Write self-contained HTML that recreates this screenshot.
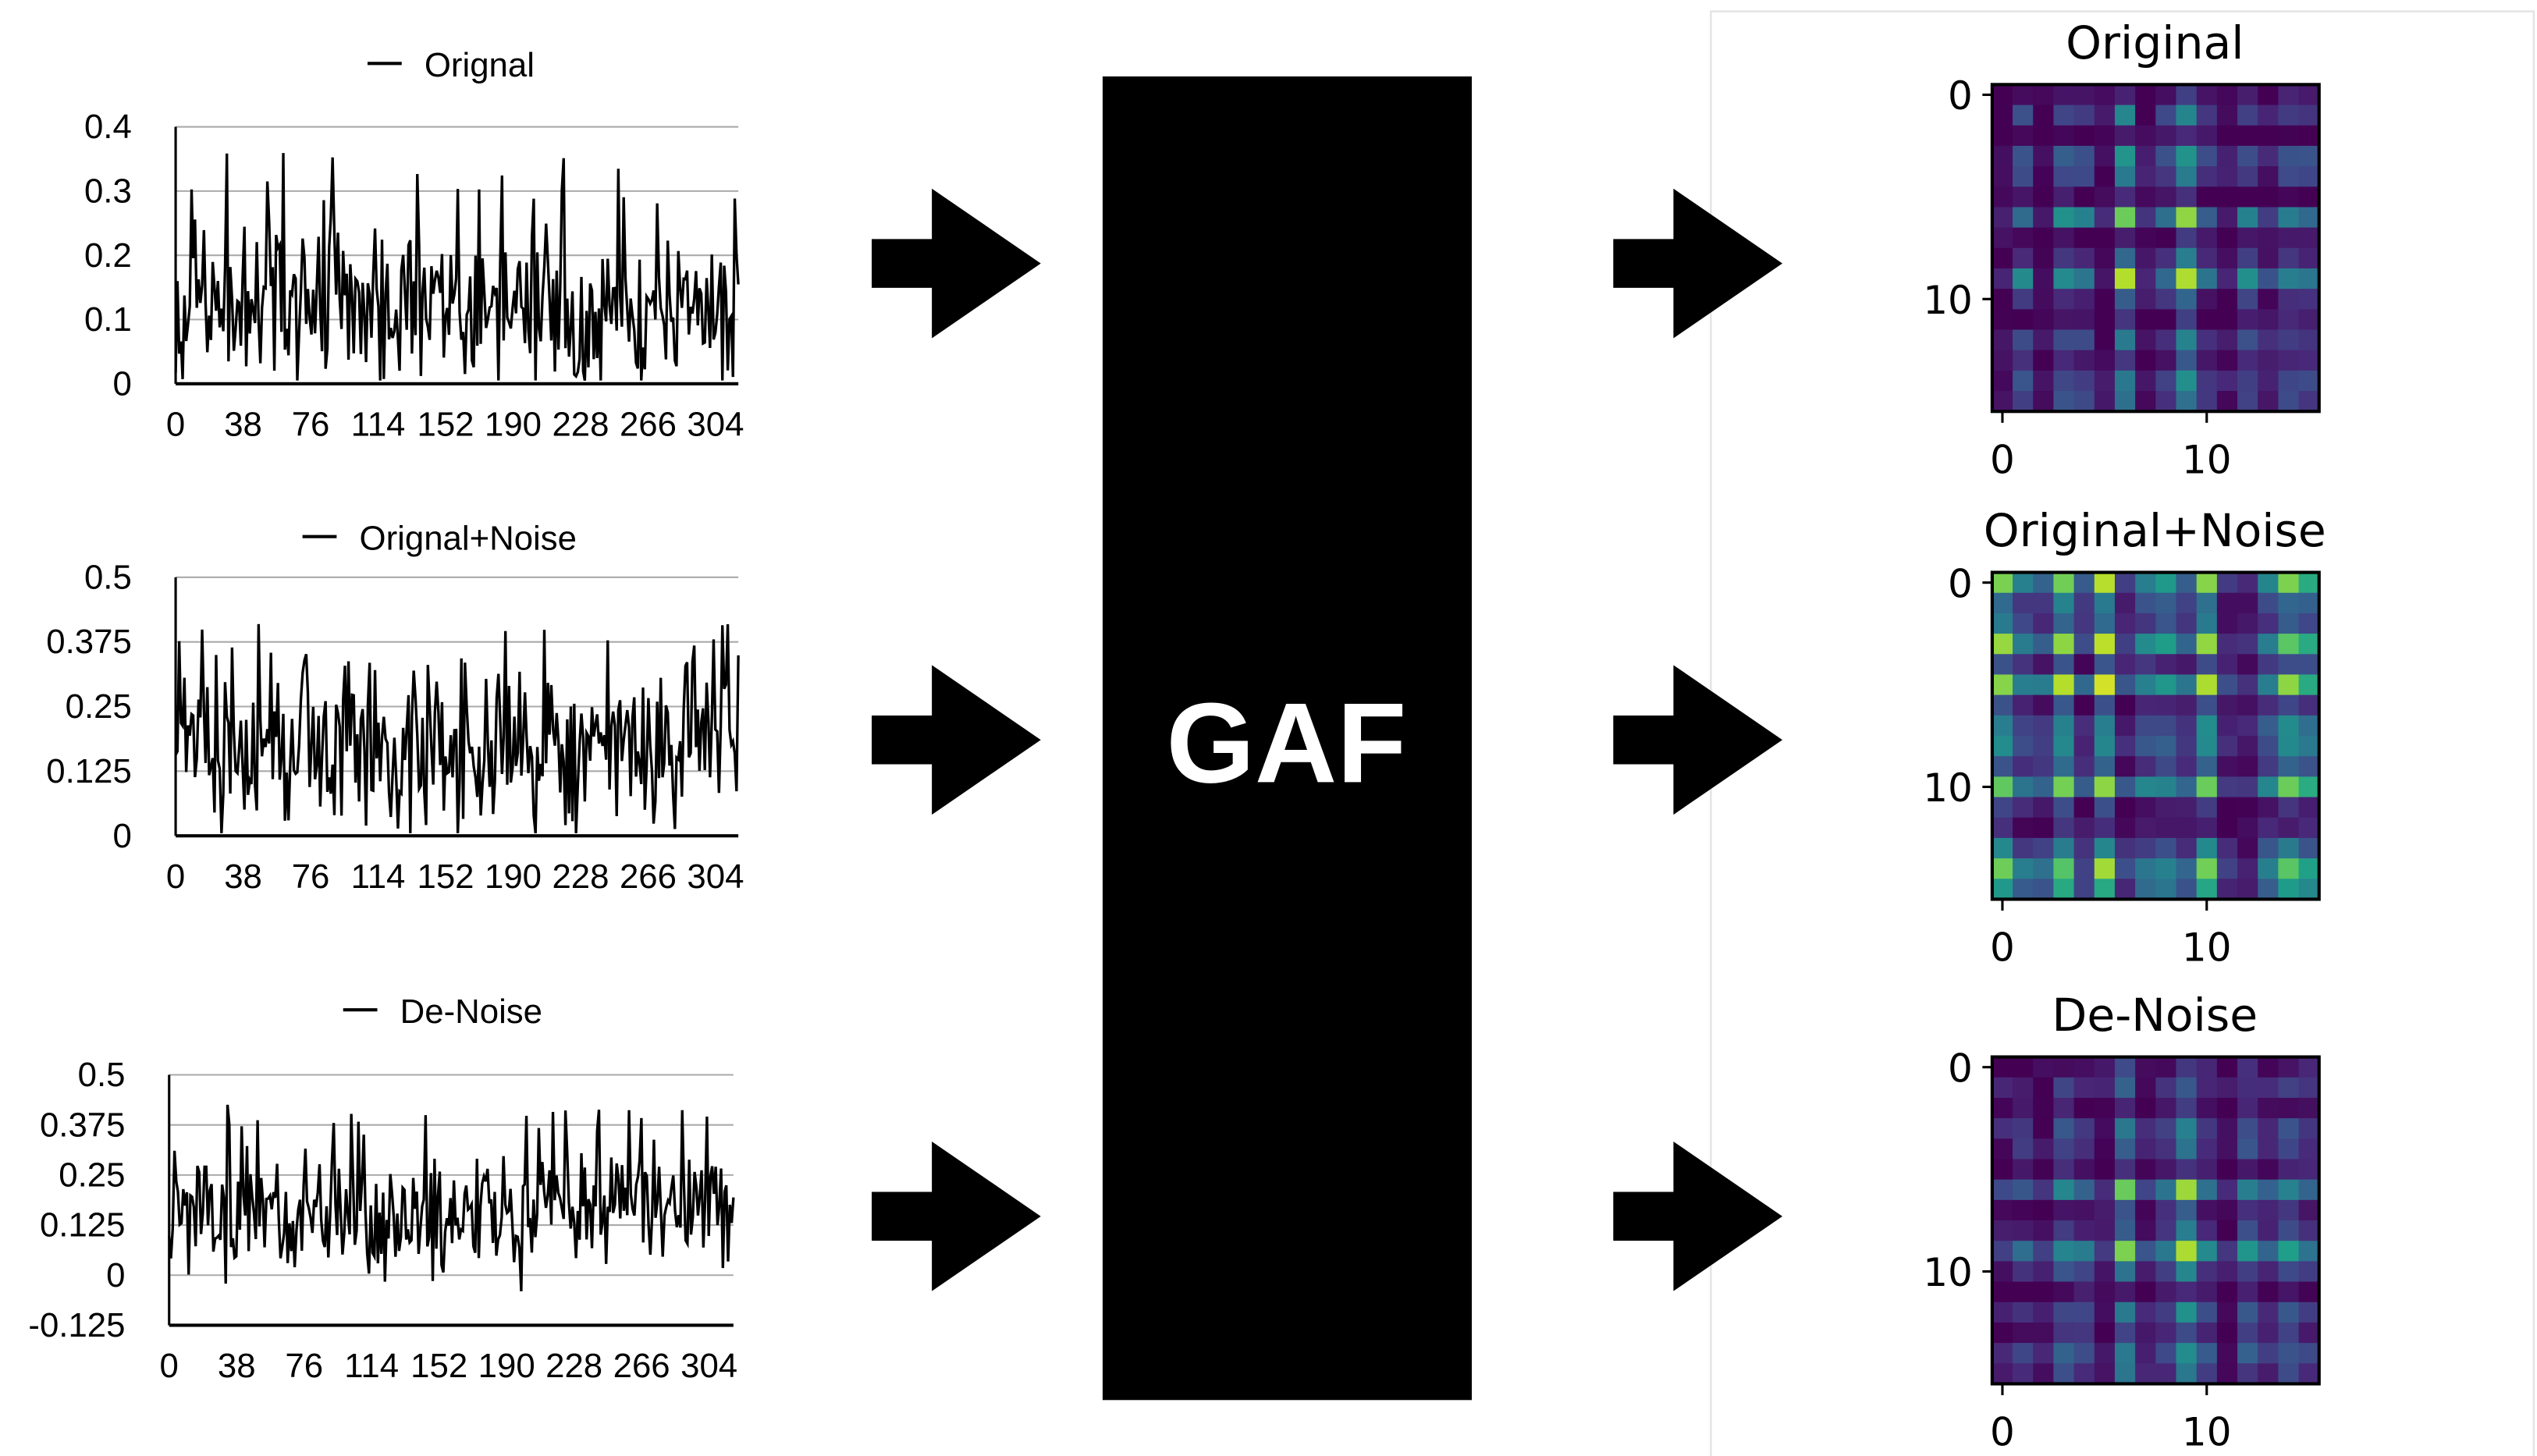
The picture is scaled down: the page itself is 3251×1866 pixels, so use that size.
<!DOCTYPE html>
<html><head><meta charset="utf-8"><style>
html,body{margin:0;padding:0;background:#fff;}
svg{display:block;}
.ax{font-family:"Liberation Sans",Arial,sans-serif;font-size:21px;fill:#000;}
.hm{font-family:"DejaVu Sans",sans-serif;fill:#000;}
</style></head><body>
<svg id="s" width="3251" height="1866" viewBox="0 0 1560 895.4" preserveAspectRatio="none" xmlns="http://www.w3.org/2000/svg">
<rect width="1560" height="896" fill="#fff"/>
<polyline points="1052,900 1052,7 1558,7 1558,900" fill="none" stroke="#e4e4e4" stroke-width="1.2"/>
<rect x="678" y="47" width="227" height="814" fill="#000"/>
<text x="791" y="481" text-anchor="middle" font-family="Liberation Sans,Arial,sans-serif" font-weight="bold" font-size="70" fill="#fff">GAF</text>
<g id="arrows"></g>
<g id="charts"></g>
<g id="heat"></g>
</svg>
<script>
var NS="http://www.w3.org/2000/svg";
function el(p,t,a,txt){var e=document.createElementNS(NS,t);for(var k in a)e.setAttribute(k,a[k]);if(txt!==undefined)e.textContent=txt;p.appendChild(e);return e;}
var A=document.getElementById('arrows');
[[536,162],[536,455],[536,748],[992,162],[992,455],[992,748]].forEach(function(c){
var x=c[0],y=c[1];
el(A,'polygon',{points:(x)+','+(y-15)+' '+(x+37)+','+(y-15)+' '+(x+37)+','+(y-46)+' '+(x+104)+','+y+' '+(x+37)+','+(y+46)+' '+(x+37)+','+(y+15)+' '+x+','+(y+15),fill:'#000'});
});
var seed=11;function rnd(){seed=(seed*16807)%2147483647;return (seed-1)/2147483646;}
var C=document.getElementById('charts');
var charts=[
 {x0:108,x1:454,top:78,bot:236,leg:[226,261,39],name:'Orignal',ticks:['0.4','0.3','0.2','0.1','0'],vmin:0,vmax:0.4,zero:236,mean:0.12,amp:0.13,lo:0.005,hi:0.36},
 {x0:108,x1:454,top:355,bot:514,leg:[186,221,330],name:'Orignal+Noise',ticks:['0.5','0.375','0.25','0.125','0'],vmin:0,vmax:0.5,zero:514,mean:0.17,amp:0.15,lo:0.005,hi:0.41},
 {x0:104,x1:451,top:661,bot:815,leg:[211,246,621],name:'De-Noise',ticks:['0.5','0.375','0.25','0.125','0','-0.125'],vmin:-0.125,vmax:0.5,zero:784,mean:0.15,amp:0.14,lo:-0.04,hi:0.43}
];
charts.forEach(function(c){
 var n=c.ticks.length;
 for(var i=0;i<n;i++){var y=c.top+(c.bot-c.top)*i/(n-1);
  if(i<n-1) el(C,'line',{x1:c.x0,x2:c.x1,y1:y,y2:y,stroke:'#aaa','stroke-width':1});
  el(C,'text',{x:c.x0-27,y:y+7,'text-anchor':'end',class:'ax'},c.ticks[i]);}
 el(C,'line',{x1:c.x0,x2:c.x0,y1:c.top,y2:c.bot,stroke:'#000','stroke-width':1.5});
 el(C,'line',{x1:c.x0,x2:c.x1,y1:c.bot,y2:c.bot,stroke:'#000','stroke-width':2});
 el(C,'line',{x1:c.leg[0],x2:c.leg[0]+21,y1:c.leg[2],y2:c.leg[2],stroke:'#000','stroke-width':2});
 el(C,'text',{x:c.leg[1],y:c.leg[2]+8,class:'ax'},c.name);
 var labs=['0','38','76','114','152','190','228','266','304'];
 labs.forEach(function(l,i){el(C,'text',{x:c.x0+i*41.5,y:c.bot+32,'text-anchor':'middle',class:'ax'}, l);});
 var pts=[],N=320;
 for(var k=0;k<N;k++){var r=(rnd()+rnd()+rnd())/3-0.5;var v=c.mean+r*2*c.amp*1.6;
  if(rnd()<0.04)v=c.hi-rnd()*0.08;
  v=Math.max(c.lo,Math.min(c.hi,v));
  var x=c.x0+(c.x1-c.x0)*k/(N-1);var y=c.bot-(v-c.vmin)/(c.vmax-c.vmin)*(c.bot-c.top);
  pts.push(x.toFixed(1)+','+y.toFixed(1));}
 el(C,'polyline',{points:pts.join(' '),fill:'none',stroke:'#000','stroke-width':1.6});
});
var stops=[[68,1,84],[72,40,120],[62,74,137],[49,104,142],[38,130,142],[31,158,137],[53,183,121],[109,205,89],[180,222,44],[253,231,37]];
function vir(t){t=Math.max(0,Math.min(1,t));var f=t*9,i=Math.floor(f);if(i>=9)i=8;var r=f-i,a=stops[i],b=stops[i+1];
 return 'rgb('+[0,1,2].map(function(j){return Math.round(a[j]+(b[j]-a[j])*r)}).join(',')+')';}
var H=document.getElementById('heat');
var maps=[
 {y:52,title:'Original',a:[.2,.5,.15,.6,.5,.15,.95,.2,.45,1,.4,.2,.55,.3,.55,.45]},
 {y:352,title:'Original+Noise',a:[.95,.5,.45,.95,.35,1,.3,.55,.6,.4,.95,.25,.2,.55,.9,.7]},
 {y:650,title:'De-Noise',a:[.25,.4,.2,.55,.45,.25,.9,.3,.45,1,.5,.2,.6,.35,.6,.45]}
];
maps.forEach(function(m){
 var x0=1225,w=201,cs=w/16;
 for(var i=0;i<16;i++)for(var j=0;j<16;j++){var v=m.a[i]*m.a[j];v=v*0.95+(rnd()-0.5)*0.12-0.05;
  el(H,'rect',{x:x0+j*cs,y:m.y+i*cs,width:cs+0.3,height:cs+0.3,fill:vir(v)});}
 el(H,'rect',{x:x0,y:m.y,width:w,height:w,fill:'none',stroke:'#000','stroke-width':2});
 el(H,'text',{x:1325,y:m.y-16,'text-anchor':'middle',class:'hm','font-size':28},m.title);
 [[0,'0'],[10,'10']].forEach(function(t){var p=(t[0]+0.5)*cs;
  el(H,'line',{x1:x0-6,x2:x0,y1:m.y+p,y2:m.y+p,stroke:'#000','stroke-width':1.5});
  el(H,'text',{x:x0-12,y:m.y+p+9,'text-anchor':'end',class:'hm','font-size':24},t[1]);
  el(H,'line',{x1:x0+p,x2:x0+p,y1:m.y+w,y2:m.y+w+7,stroke:'#000','stroke-width':1.5});
  el(H,'text',{x:x0+p,y:m.y+w+38,'text-anchor':'middle',class:'hm','font-size':24},t[1]);});
});
</script>
</body></html>
